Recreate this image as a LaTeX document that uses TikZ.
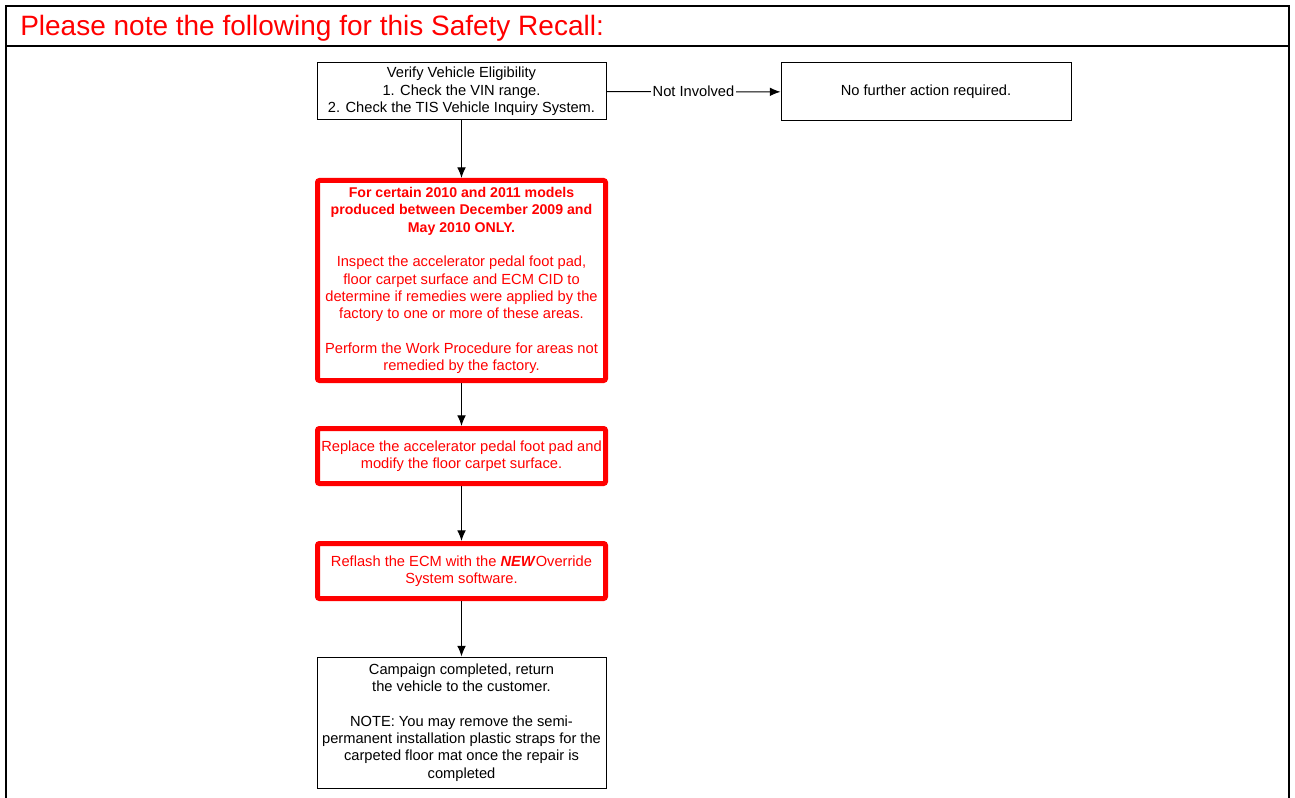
\documentclass[tikz,border=0pt]{standalone}
\usepackage{fontspec}
\setmainfont{Liberation Sans}
\usepackage{tikz}
\usetikzlibrary{shapes.geometric, arrows, arrows.meta}
\usetikzlibrary{positioning}
\newcommand{\boldline}[1]{{\fontsize{10.6}{13}\selectfont\bfseries #1}}

\begin{document}
\begin{tikzpicture}[x=0.75pt,y=0.75pt,yscale=-1,xscale=1]
  \useasboundingbox (0,0) rectangle (1295,798);
  \tikzstyle{arrow} = [-{Latex[length=8pt,width=6.5pt]},line width=0.75pt]
  \tikzstyle{plainbox} = [draw,line width=0.75pt,minimum width=216.75pt,inner sep=2pt,align=center,font=\fontsize{11}{13}\selectfont]
  \tikzstyle{redbox} = [draw=red,text=red,line width=3.75pt,rounded corners=1.5pt,minimum width=216pt,inner sep=1pt,align=center,font=\fontsize{11}{13}\selectfont]
  %Draw the frame and the title
 \draw [line width=1.5pt] (6,798) -- (6,6) -- (1289,6) -- (1289,798);
 \draw [line width=1.5pt] (6,46) -- (1289,46);
 \draw (20,28.5) node [anchor=west][inner sep=0pt,text=red,font=\fontsize{21}{24}\selectfont] (title) {Please note the following for this Safety Recall:};
 
 %Draw the boxes
 \draw (461.5,91.5) node [plainbox,minimum height=42.75pt] (verify) {Verify Vehicle Eligibility\\1. Check the VIN range.\\2. Check the TIS Vehicle Inquiry System.};
 \draw (926,92) node [plainbox,minimum width=217.5pt,minimum height=43.5pt] (noaction) {No further action required.};
 \draw (461.5,280.5) node [redbox,minimum height=150pt] (inspect) {\boldline{For certain 2010 and 2011 models}\\\boldline{produced between December 2009 and}\\\boldline{May 2010 ONLY.}\\[13pt]Inspect the accelerator pedal foot pad,\\floor carpet surface and ECM CID to\\determine if remedies were applied by the\\factory to one or more of these areas.\\[13pt]Perform the Work Procedure for areas not\\remedied by the factory.};
 \draw (461.5,456) node [redbox,minimum height=41.25pt] (replace) {Replace the accelerator pedal foot pad and\\modify the floor carpet surface.};
 \draw (461.5,571) node [redbox,minimum height=41.25pt] (reflash) {Reflash the ECM with the \textbf{\textit{NEW}}Override\\System software.};
 \draw (461.5,722.5) node [plainbox,minimum height=98.25pt] (done) {Campaign completed, return\\the vehicle to the customer.\\[13pt]NOTE: You may remove the semi-\\permanent installation plastic straps for the\\carpeted floor mat once the repair is\\completed};
 
 %Draw the arrows
 \draw [arrow] (verify) -- node [fill=white,inner sep=1pt,font=\fontsize{11}{13}\selectfont] (notinv) {Not Involved} (noaction);
 \draw [arrow] (verify) -- (inspect);
 \draw [arrow] (inspect) -- (replace);
 \draw [arrow] (replace) -- (reflash);
 \draw [arrow] (reflash) -- (done);
  \end{tikzpicture}
\end{document}
